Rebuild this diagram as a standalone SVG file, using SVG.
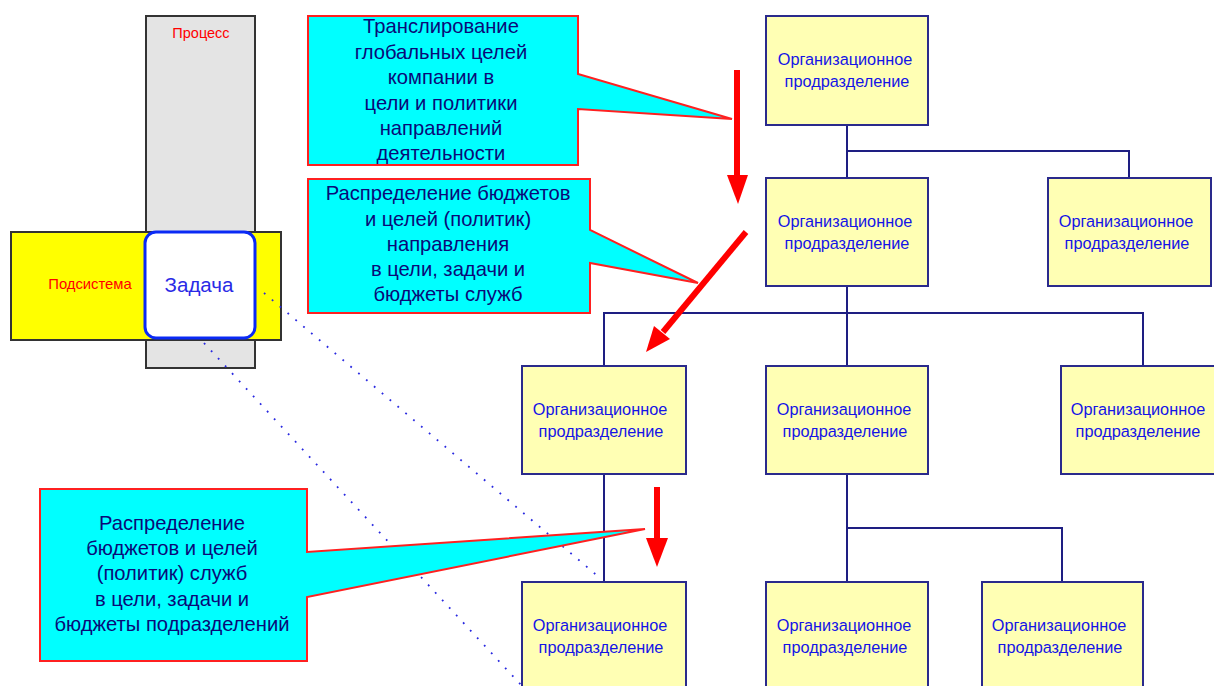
<svg xmlns="http://www.w3.org/2000/svg" width="1214" height="686" viewBox="0 0 1214 686">
<style>
.org rect{fill:#FFFFB4;stroke:#2A2A8C;stroke-width:2}
.org text{font-family:"Liberation Sans",Arial,sans-serif;font-size:16.3px;fill:#1414E6;text-anchor:middle}
.conn{fill:none;stroke:#1E1E82;stroke-width:2}
.dot{fill:none;stroke:#2828E0;stroke-width:1.8;stroke-dasharray:1.8 8.5}
.call path{fill:#00FFFF;stroke:#FF2020;stroke-width:2}
.call text{font-family:"Liberation Sans",Arial,sans-serif;font-size:20.2px;fill:#0A0A78;text-anchor:middle}
.arr line{stroke:#FF0000;stroke-width:6}
.arr polygon{fill:#FF0000}
.lbl{font-family:"Liberation Sans",Arial,sans-serif;fill:#FF0000;text-anchor:middle}
</style>
<rect width="1214" height="686" fill="#FFFFFF"/>
<g id="process">
<rect x="146" y="16" width="109" height="352" fill="#E4E4E4" stroke="#333333" stroke-width="2"/>
<text class="lbl" x="201" y="38" font-size="14.5">Процесс</text>
</g>
<g id="subsystem">
<rect x="11" y="232" width="270" height="108" fill="#FFFF00" stroke="#333333" stroke-width="2"/>
<text class="lbl" x="90" y="289" font-size="14.8">Подсистема</text>
</g>
<g id="task">
<rect x="145" y="232" width="110" height="106" rx="11" fill="#FFFFFF" stroke="#0A2AF5" stroke-width="3"/>
<text x="199" y="292" font-family="Liberation Sans,Arial,sans-serif" font-size="20.5" fill="#2A2AE6" text-anchor="middle">Задача</text>
</g>
<g id="connectors">
<path class="conn" d="M847,125 V178 M847,151 H1129 V178 M847,286 V366 M604,366 V313 H1143 V366 M604,474 V582 M847,474 V582 M847,528 H1062 V582"/>
<line class="dot" x1="264" y1="293" x2="600" y2="578"/>
<line class="dot" x1="204" y1="343" x2="522" y2="686"/>
</g>
<g id="org1" class="org"><rect x="766" y="16" width="162" height="109"/><text x="845" y="65">Организационное</text><text x="847" y="87">продразделение</text></g>
<g id="org2" class="org"><rect x="766" y="178" width="162" height="108"/><text x="845" y="227">Организационное</text><text x="847" y="249">продразделение</text></g>
<g id="org3" class="org"><rect x="1048" y="178" width="163" height="108"/><text x="1126" y="227">Организационное</text><text x="1127" y="249">продразделение</text></g>
<g id="org4" class="org"><rect x="522" y="366" width="164" height="108"/><text x="600" y="415">Организационное</text><text x="601" y="437">продразделение</text></g>
<g id="org5" class="org"><rect x="766" y="366" width="162" height="108"/><text x="844" y="415">Организационное</text><text x="845" y="437">продразделение</text></g>
<g id="org6" class="org"><rect x="1061" y="366" width="164" height="108"/><text x="1138" y="415">Организационное</text><text x="1138" y="437">продразделение</text></g>
<g id="org7" class="org"><rect x="522" y="582" width="164" height="110"/><text x="600" y="631">Организационное</text><text x="601" y="653">продразделение</text></g>
<g id="org8" class="org"><rect x="766" y="582" width="162" height="110"/><text x="844" y="631">Организационное</text><text x="845" y="653">продразделение</text></g>
<g id="org9" class="org"><rect x="982" y="582" width="161" height="110"/><text x="1059" y="631">Организационное</text><text x="1060" y="653">продразделение</text></g>
<g id="callout1" class="call">
<path d="M308,16 H578 V74 L732,119 L578,109 V165 H308 Z"/>
<text x="441" y="33">Транслирование</text>
<text x="441" y="58.5">глобальных целей</text>
<text x="441" y="84">компании в</text>
<text x="441" y="109.5">цели и политики</text>
<text x="441" y="135">направлений</text>
<text x="441" y="160">деятельности</text>
</g>
<g id="callout2" class="call">
<path d="M308,179 H590 V230 L698,283 L590,263 V313 H308 Z"/>
<text x="448" y="200">Распределение бюджетов</text>
<text x="448" y="225.5">и целей (политик)</text>
<text x="448" y="251">направления</text>
<text x="448" y="276">в цели, задачи и</text>
<text x="448" y="301">бюджеты служб</text>
</g>
<g id="callout3" class="call">
<path d="M40,489 H307 V552 L645,529 L307,597 V661 H40 Z"/>
<text x="172" y="530" font-size="21">Распределение</text>
<text x="172" y="555" font-size="21">бюджетов и целей</text>
<text x="172" y="580" font-size="21">(политик) служб</text>
<text x="172" y="606" font-size="21">в цели, задачи и</text>
<text x="172" y="631" font-size="21">бюджеты подразделений</text>
</g>
<g id="arrow1" class="arr"><line x1="737" y1="70" x2="737" y2="178"/><polygon points="727,175 748,175 738,204"/></g>
<g id="arrow2" class="arr"><line x1="746" y1="232" x2="663" y2="332"/><polygon points="670,339 654,326 646,352"/></g>
<g id="arrow3" class="arr"><line x1="657" y1="487" x2="657" y2="540"/><polygon points="646,538 668,538 657,567"/></g>
</svg>
